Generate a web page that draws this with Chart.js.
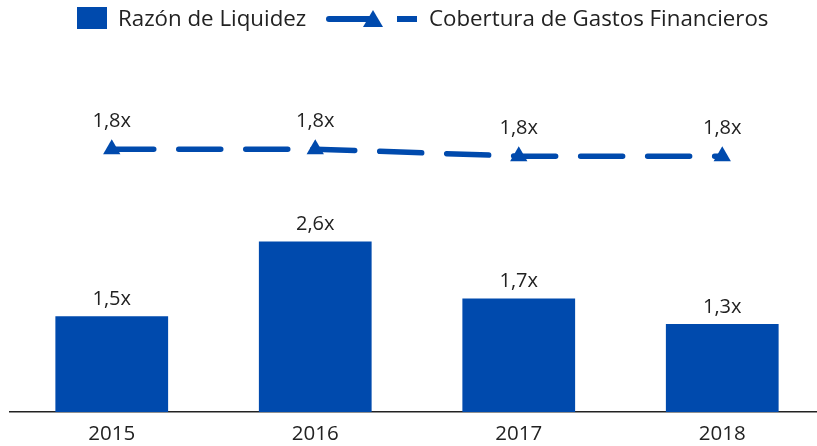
<!DOCTYPE html>
<html>
<head>
<meta charset="utf-8">
<script src="https://cdn.jsdelivr.net/npm/chart.js@4.4.1/dist/chart.umd.min.js"></script>
<style>
  body { margin: 0; overflow: hidden; background: #fff; }
  .wrap { position: relative; width: 817px; height: 446px; overflow: hidden; }
  #myChart { display: block; width: 834px; height: 457px; }
  .legend { position: absolute; top: 0; left: 0; height: 36px; width: 817px;
    font-family: "Open Sans", sans-serif; font-size: 22.3px; color: #222; }
  .legend .sq { position: absolute; left: 77px; top: 7px; width: 30px; height: 22px; background: #004AAD; }
  .legend .t { position: absolute; top: 0; line-height: 36px; white-space: nowrap; }
  .legend svg { position: absolute; left: 326px; top: 8px; }
</style>
</head>
<body>
<div class="wrap">
  <canvas id="myChart" width="834" height="457"></canvas>
  <div class="legend">
    <div class="sq"></div>
    <span class="t" style="left:118px">Razón de Liquidez</span>
    <svg width="96" height="20">
      <line x1="3" y1="11" x2="46" y2="11" stroke="#004AAD" stroke-width="6" stroke-linecap="round"/>
      <polygon points="47,2 57,19 37,19" fill="#004AAD"/>
      <line x1="71" y1="11" x2="91" y2="11" stroke="#004AAD" stroke-width="6"/>
    </svg>
    <span class="t" style="left:429px">Cobertura de Gastos Financieros</span>
  </div>
</div>
<script>
const years = ["2015", "2016", "2017", "2018"];
const liquidez = [1.46, 2.60, 1.73, 1.34];
const cobertura = [1.84, 1.84, 1.78, 1.78];

const blue = "#004AAD";
const fontFamily = "'Open Sans', sans-serif";

const fmt = (v) => v.toFixed(1).replace(".", ",") + "x";

// value labels above bars and points
const valueLabels = {
  id: "valueLabels",
  afterDatasetsDraw(chart) {
    const ctx = chart.ctx;
    ctx.save();
    ctx.font = "20px " + fontFamily;
    ctx.fillStyle = "#222";
    ctx.textAlign = "center";
    ctx.textBaseline = "middle";
    chart.data.datasets.forEach((ds, i) => {
      const meta = chart.getDatasetMeta(i);
      meta.data.forEach((el, j) => {
        const off = ds.type === "line" ? 28 : 17;
        ctx.fillText(fmt(ds.data[j]), el.x, el.y - off);
      });
    });
    ctx.restore();
  },
};

let myChart = new Chart(document.getElementById("myChart").getContext("2d"), {
  type: "bar",
  data: {
    labels: years,
    datasets: [
      {
        type: "line",
        label: "Cobertura de Gastos Financieros",
        data: cobertura,
        yAxisID: "y2",
        borderColor: blue,
        backgroundColor: blue,
        borderWidth: 5.5,
        borderDash: [42, 25],
        borderCapStyle: "round",
        pointStyle: "triangle",
        pointRadius: 10,
        pointBorderWidth: 0,
        order: 0,
      },
      {
        label: "Razón de Liquidez",
        data: liquidez,
        yAxisID: "y",
        backgroundColor: blue,
        categoryPercentage: 1,
        barPercentage: 0.554,
        order: 1,
      },
    ],
  },
  options: {
    responsive: false,
    animation: false,
    layout: { padding: { top: 51.5, left: 8.5, right: 0.5, bottom: 0.5 } },
    plugins: { legend: { display: false }, tooltip: { enabled: false } },
    scales: {
      x: {
        grid: { display: false, drawTicks: false },
        border: { display: true, color: "#222", width: 1.5 },
        ticks: { color: "#222", font: { family: fontFamily, size: 20.5 }, padding: 10 },
      },
      y: { display: false, min: 0, max: 5.5 },
      y2: { display: false, min: -0.42, max: 2.68 },
    },
  },
  plugins: [valueLabels],
});
</script>
</body>
</html>
